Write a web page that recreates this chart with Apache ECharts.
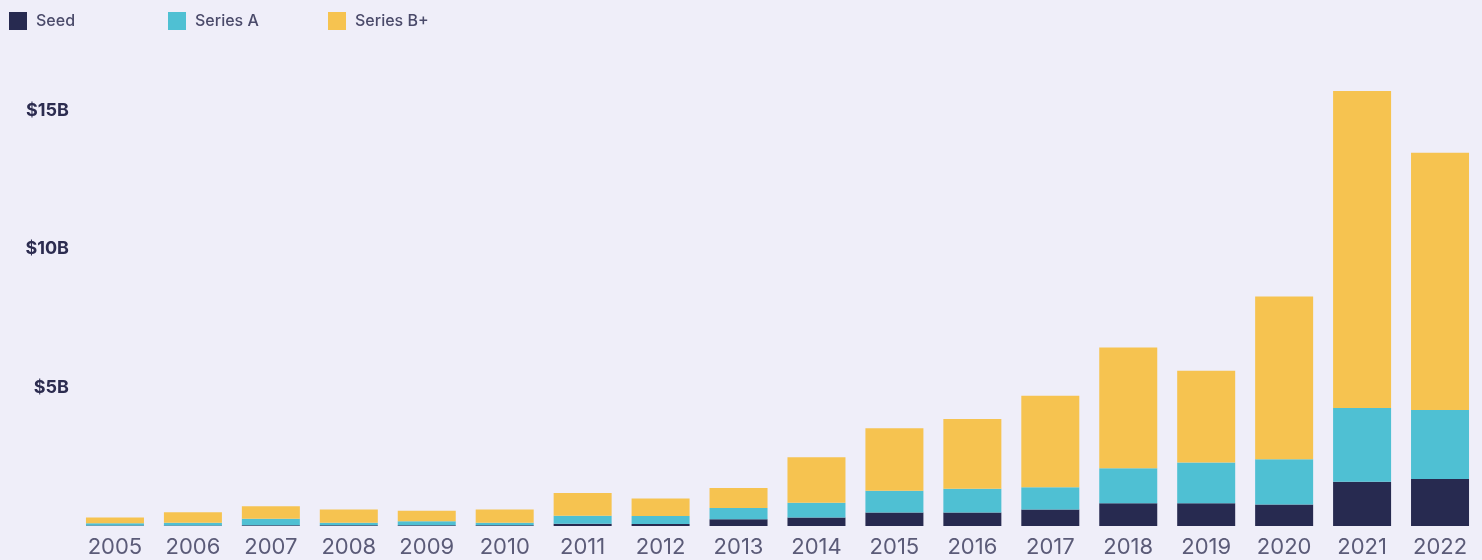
<!DOCTYPE html>
<html>
<head>
<meta charset="utf-8">
<script src="https://cdn.jsdelivr.net/npm/echarts@6/dist/echarts.min.js"></script>
<style>
  html, body { margin: 0; padding: 0; background: #efeef9; }
  #main { width: 1482px; height: 560px; }
</style>
</head>
<body>
<div id="main"></div>
<script>
// values in $B
var years = ['2005','2006','2007','2008','2009','2010','2011','2012','2013','2014','2015','2016','2017','2018','2019','2020','2021','2022'];
var seed = [0.02, 0.02, 0.03, 0.03, 0.03, 0.03, 0.08, 0.07, 0.24, 0.31, 0.49, 0.49, 0.60, 0.82, 0.82, 0.78, 1.60, 1.70];
var seriesA = [0.08, 0.10, 0.23, 0.09, 0.14, 0.09, 0.29, 0.29, 0.41, 0.53, 0.78, 0.85, 0.80, 1.26, 1.47, 1.63, 2.66, 2.49];
var seriesB = [0.21, 0.38, 0.45, 0.48, 0.38, 0.48, 0.82, 0.63, 0.72, 1.64, 2.26, 2.52, 3.30, 4.36, 3.31, 5.87, 11.44, 9.28];
var yTicks = [5, 10, 15];

var myChart = echarts.init(document.getElementById('main'));

function legendAt(name, x) {
    return {
        data: [name],
        left: x - 5,
        top: 7,
        itemWidth: 18,
        itemHeight: 18,
        icon: 'rect',
        textStyle: { color: '#4a4a6a', fontSize: 16, fontWeight: 500, fontFamily: 'Inter', padding: [0, 0, 0, 4] }
    };
}

var option = {
    backgroundColor: '#efeef9',
    animation: false,
    legend: [
        legendAt('Seed', 9),
        legendAt('Series A', 168),
        legendAt('Series B+', 328)
    ],
    grid: { left: 76, right: 3, top: 55, bottom: 34 },
    xAxis: {
        type: 'category',
        data: years,
        axisLine: { show: false },
        axisTick: { show: false },
        axisLabel: { color: '#5b5b78', fontSize: 22, fontFamily: 'Inter', margin: 10 }
    },
    yAxis: {
        type: 'value',
        min: 0,
        max: 17,
        interval: 5,
        splitLine: { show: false },
        axisLabel: {
            color: '#2c2c50',
            fontSize: 18,
            fontWeight: 'bold',
            fontFamily: 'Inter',
            margin: 7,
            formatter: function (v) {
                return yTicks.indexOf(v) >= 0 ? '$' + v + 'B' : '';
            }
        }
    },
    series: [
        { name: 'Seed', type: 'bar', stack: 'all', barWidth: 58, data: seed, itemStyle: { color: '#272a50' } },
        { name: 'Series A', type: 'bar', stack: 'all', barWidth: 58, data: seriesA, itemStyle: { color: '#4fc0d3' } },
        { name: 'Series B+', type: 'bar', stack: 'all', barWidth: 58, data: seriesB, itemStyle: { color: '#f6c350' } }
    ]
};
myChart.setOption(option);
</script>
</body>
</html>
